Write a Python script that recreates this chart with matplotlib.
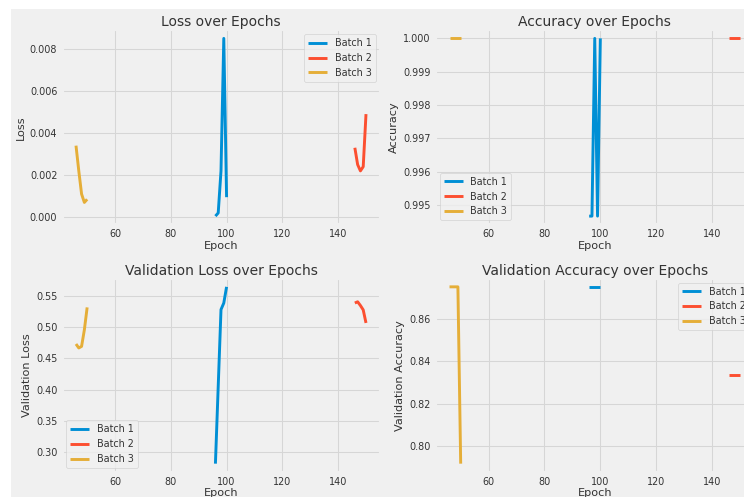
import matplotlib
matplotlib.use("Agg")
import matplotlib.pyplot as plt
from matplotlib.patches import Rectangle

plt.style.use('fivethirtyeight')

# ---- data ----
epochs_b1 = [96, 97, 98, 99, 100]
epochs_b2 = [146, 147, 148, 149, 150]
epochs_b3 = [46, 47, 48, 49, 50]
batch_labels = ['Batch 1', 'Batch 2', 'Batch 3']

loss_b1 = [0.00005, 0.0002, 0.0022, 0.0085, 0.00095]
loss_b2 = [0.0033, 0.0025, 0.0022, 0.0024, 0.0049]
loss_b3 = [0.0034, 0.0022, 0.0011, 0.0007, 0.00085]

acc_b1 = [0.99467, 0.99467, 1.0, 0.99467, 1.0]
acc_b2 = [1.0, 1.0, 1.0, 1.0, 1.0]
acc_b3 = [1.0, 1.0, 1.0, 1.0, 1.0]

vloss_b1 = [0.281, 0.405, 0.5285, 0.539, 0.565]
vloss_b2 = [0.539, 0.541, 0.535, 0.528, 0.507]
vloss_b3 = [0.4732, 0.4668, 0.4694, 0.496, 0.532]

vacc_b1 = [0.875, 0.875, 0.875, 0.875, 0.875]
vacc_b2 = [0.8333, 0.8333, 0.8333, 0.8333, 0.8333]
vacc_b3 = [0.875, 0.875, 0.875, 0.875, 0.7917]

loss_ticks = [0.000, 0.002, 0.004, 0.006, 0.008]
acc_ticks = [0.995, 0.996, 0.997, 0.998, 0.999, 1.000]
vloss_ticks = [0.30, 0.35, 0.40, 0.45, 0.50, 0.55]
vacc_ticks = [0.80, 0.82, 0.84, 0.86]
x_ticks = [60, 80, 100, 120, 140]

TXT = '#333333'
plt.rcParams.update({
    'font.family': ['DejaVu Sans'],
    'text.color': TXT,
    'axes.labelcolor': TXT,
    'xtick.color': TXT,
    'ytick.color': TXT,
    'lines.linewidth': 2.1,
    'grid.linewidth': 0.75,
    'grid.color': '#d6d6d6',
})

W, H = 744, 497
fig = plt.figure(figsize=(W / 100, H / 100), dpi=100, facecolor='white')
fig.patches.append(Rectangle((11 / W, 0), 1, (H - 9) / H, transform=fig.transFigure,
                             facecolor='#f0f0f0', edgecolor='none', zorder=-10))

def px_axes(left, top, right, bottom):
    return fig.add_axes([left / W, 1 - bottom / H, (right - left) / W, (bottom - top) / H])

ax1 = px_axes(61.5, 29.5, 380.5, 225)
ax2 = px_axes(435, 29.5, 754.5, 225)
ax3 = px_axes(61.5, 278, 380.5, 472.5)
ax4 = px_axes(435, 278, 754.5, 472.5)

panels = [
    (ax1, 'Loss over Epochs', 'Loss', (loss_b1, loss_b2, loss_b3), loss_ticks, 'upper right', 3),
    (ax2, 'Accuracy over Epochs', 'Accuracy', (acc_b1, acc_b2, acc_b3), acc_ticks, 'lower left', 3),
    (ax3, 'Validation Loss over Epochs', 'Validation Loss', (vloss_b1, vloss_b2, vloss_b3), vloss_ticks, 'lower left', 2),
    (ax4, 'Validation Accuracy over Epochs', 'Validation Accuracy', (vacc_b1, vacc_b2, vacc_b3), vacc_ticks, 'upper right', 2),
]
epochs = (epochs_b1, epochs_b2, epochs_b3)

for ax, title, ylabel, series, yt, loc, dec in panels:
    for ep, vals, lab in zip(epochs, series, batch_labels):
        ax.plot(ep, vals, label=lab)
    ax.set_title(title, fontsize=10, pad=2.5, color=TXT)
    ax.set_xlabel('Epoch', fontsize=8.1, labelpad=1)
    ax.set_ylabel(ylabel, fontsize=8.1, labelpad=3)
    ax.set_xticks(x_ticks)
    ax.set_yticks(yt)
    ax.set_yticklabels([f'{v:.{dec}f}' for v in yt])
    ax.tick_params(labelsize=6.9, pad=3)
    ax.legend(loc=loc, fontsize=6.9)

fig.savefig('out.png', dpi=100, facecolor=fig.get_facecolor())
